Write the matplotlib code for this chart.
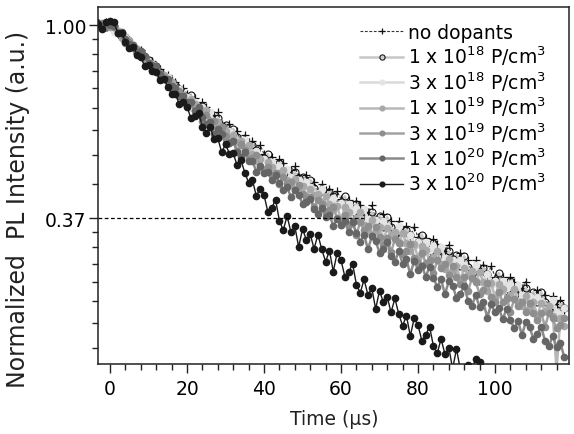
import matplotlib
matplotlib.use("Agg")
import matplotlib.pyplot as plt
import numpy as np
from matplotlib.ticker import FixedLocator, MultipleLocator, NullFormatter

# PL decay traces, sampled every 1 us (black trace stops at 96 us)
time_us = np.arange(-3, 119)
time_black_us = np.arange(-3, 97)

no_dopants = [
    1.010, 0.995, 1.015, 1.012,
    0.973, 0.972, 0.936, 0.943, 0.922, 0.891, 0.884, 0.880, 0.847, 0.826,
    0.828, 0.803, 0.797, 0.768, 0.774, 0.753, 0.746, 0.722, 0.723, 0.699,
    0.675, 0.685, 0.648, 0.671, 0.654, 0.624, 0.627, 0.636, 0.600, 0.584,
    0.600, 0.573, 0.577, 0.546, 0.566, 0.546, 0.549, 0.525, 0.537, 0.513,
    0.497, 0.506, 0.481, 0.500, 0.489, 0.468, 0.472, 0.481, 0.456, 0.446,
    0.459, 0.441, 0.444, 0.422, 0.439, 0.426, 0.429, 0.412, 0.423, 0.406,
    0.390, 0.404, 0.377, 0.403, 0.393, 0.372, 0.379, 0.393, 0.366, 0.357,
    0.376, 0.356, 0.363, 0.338, 0.362, 0.347, 0.354, 0.335, 0.352, 0.333,
    0.320, 0.332, 0.308, 0.330, 0.322, 0.305, 0.311, 0.321, 0.299, 0.292,
    0.307, 0.291, 0.296, 0.276, 0.296, 0.284, 0.289, 0.274, 0.287, 0.272,
    0.262, 0.271, 0.253, 0.271, 0.264, 0.250, 0.256, 0.265, 0.247, 0.242,
    0.254, 0.241, 0.247, 0.230, 0.246, 0.236, 0.241, 0.229,
]
p_1e18 = [
    1.010, 1.005, 0.990, 1.015,
    0.997, 0.960, 0.938, 0.939, 0.908, 0.899, 0.865, 0.869, 0.843, 0.834,
    0.807, 0.809, 0.783, 0.761, 0.759, 0.730, 0.733, 0.717, 0.691, 0.685,
    0.695, 0.657, 0.642, 0.658, 0.629, 0.630, 0.596, 0.617, 0.594, 0.596,
    0.570, 0.584, 0.560, 0.541, 0.549, 0.519, 0.538, 0.524, 0.501, 0.503,
    0.512, 0.486, 0.476, 0.490, 0.469, 0.473, 0.449, 0.467, 0.452, 0.455,
    0.437, 0.449, 0.431, 0.418, 0.425, 0.405, 0.421, 0.412, 0.395, 0.398,
    0.412, 0.384, 0.375, 0.395, 0.374, 0.381, 0.355, 0.379, 0.365, 0.372,
    0.352, 0.370, 0.351, 0.337, 0.349, 0.325, 0.347, 0.338, 0.320, 0.326,
    0.338, 0.315, 0.307, 0.323, 0.306, 0.312, 0.291, 0.310, 0.298, 0.304,
    0.288, 0.302, 0.286, 0.275, 0.285, 0.266, 0.284, 0.276, 0.262, 0.267,
    0.277, 0.258, 0.252, 0.266, 0.251, 0.257, 0.240, 0.256, 0.246, 0.251,
    0.238, 0.251, 0.238, 0.229, 0.238, 0.221, 0.236, 0.231,
]
p_3e18 = [
    0.990, 1.010, 0.995, 1.005,
    0.967, 0.975, 0.946, 0.938, 0.906, 0.907, 0.877, 0.850, 0.846, 0.812,
    0.817, 0.800, 0.773, 0.768, 0.763, 0.735, 0.717, 0.718, 0.693, 0.690,
    0.652, 0.673, 0.650, 0.653, 0.623, 0.637, 0.607, 0.585, 0.591, 0.558,
    0.578, 0.565, 0.540, 0.543, 0.552, 0.522, 0.509, 0.521, 0.498, 0.500,
    0.474, 0.493, 0.479, 0.482, 0.462, 0.475, 0.455, 0.442, 0.449, 0.426,
    0.443, 0.433, 0.416, 0.420, 0.427, 0.407, 0.398, 0.409, 0.393, 0.398,
    0.371, 0.396, 0.381, 0.388, 0.368, 0.386, 0.366, 0.352, 0.364, 0.339,
    0.363, 0.353, 0.335, 0.342, 0.354, 0.330, 0.322, 0.338, 0.320, 0.326,
    0.304, 0.325, 0.312, 0.318, 0.301, 0.317, 0.300, 0.287, 0.297, 0.277,
    0.297, 0.289, 0.274, 0.279, 0.289, 0.270, 0.263, 0.276, 0.261, 0.266,
    0.249, 0.266, 0.256, 0.262, 0.247, 0.260, 0.247, 0.238, 0.246, 0.229,
    0.245, 0.240, 0.227, 0.233, 0.241, 0.225, 0.219, 0.231,
]
p_1e19 = [
    0.998, 0.990, 1.005, 0.992,
    0.992, 0.969, 0.937, 0.928, 0.924, 0.888, 0.866, 0.866, 0.835, 0.825,
    0.794, 0.800, 0.778, 0.772, 0.745, 0.746, 0.720, 0.699, 0.695, 0.658,
    0.681, 0.663, 0.633, 0.636, 0.644, 0.608, 0.592, 0.606, 0.576, 0.578,
    0.547, 0.566, 0.546, 0.549, 0.525, 0.537, 0.513, 0.495, 0.500, 0.472,
    0.491, 0.480, 0.461, 0.465, 0.473, 0.448, 0.438, 0.451, 0.432, 0.434,
    0.412, 0.428, 0.415, 0.418, 0.401, 0.413, 0.396, 0.383, 0.391, 0.365,
    0.389, 0.380, 0.360, 0.368, 0.380, 0.355, 0.345, 0.364, 0.345, 0.351,
    0.328, 0.349, 0.337, 0.343, 0.325, 0.341, 0.323, 0.310, 0.322, 0.299,
    0.319, 0.312, 0.295, 0.301, 0.311, 0.291, 0.283, 0.298, 0.282, 0.287,
    0.267, 0.285, 0.274, 0.280, 0.266, 0.279, 0.264, 0.253, 0.263, 0.244,
    0.262, 0.255, 0.242, 0.247, 0.255, 0.239, 0.234, 0.246, 0.232, 0.238,
    0.222, 0.237, 0.228, 0.234, 0.222, 0.168, 0.220, 0.211,
]
p_3e19 = [
    0.996, 1.012, 0.995, 1.002,
    0.991, 0.958, 0.949, 0.913, 0.917, 0.889, 0.881, 0.849, 0.849, 0.817,
    0.794, 0.792, 0.760, 0.766, 0.747, 0.722, 0.714, 0.711, 0.682, 0.658,
    0.673, 0.643, 0.644, 0.609, 0.629, 0.606, 0.607, 0.579, 0.591, 0.563,
    0.544, 0.550, 0.521, 0.540, 0.525, 0.501, 0.503, 0.509, 0.480, 0.467,
    0.480, 0.460, 0.464, 0.439, 0.456, 0.441, 0.444, 0.425, 0.437, 0.417,
    0.404, 0.411, 0.390, 0.405, 0.396, 0.380, 0.383, 0.389, 0.368, 0.356,
    0.375, 0.355, 0.362, 0.338, 0.361, 0.347, 0.353, 0.335, 0.352, 0.333,
    0.320, 0.332, 0.309, 0.330, 0.323, 0.305, 0.311, 0.322, 0.300, 0.292,
    0.308, 0.292, 0.296, 0.277, 0.296, 0.284, 0.290, 0.274, 0.287, 0.272,
    0.262, 0.271, 0.252, 0.270, 0.264, 0.249, 0.254, 0.263, 0.245, 0.239,
    0.251, 0.238, 0.244, 0.227, 0.242, 0.233, 0.239, 0.227, 0.237, 0.225,
    0.217, 0.225, 0.210, 0.225, 0.219, 0.208, 0.212, 0.219,
]
p_1e20 = [
    1.005, 0.985, 1.010, 1.000,
    0.993, 0.961, 0.963, 0.932, 0.906, 0.902, 0.868, 0.873, 0.851, 0.822,
    0.814, 0.810, 0.778, 0.758, 0.758, 0.730, 0.722, 0.691, 0.693, 0.670,
    0.671, 0.640, 0.653, 0.622, 0.598, 0.604, 0.568, 0.585, 0.568, 0.539,
    0.542, 0.549, 0.519, 0.506, 0.518, 0.494, 0.495, 0.468, 0.483, 0.465,
    0.468, 0.448, 0.460, 0.441, 0.426, 0.433, 0.410, 0.425, 0.415, 0.397,
    0.400, 0.407, 0.386, 0.377, 0.388, 0.371, 0.374, 0.354, 0.367, 0.355,
    0.362, 0.342, 0.361, 0.340, 0.326, 0.338, 0.313, 0.335, 0.327, 0.308,
    0.314, 0.326, 0.302, 0.294, 0.310, 0.291, 0.298, 0.275, 0.295, 0.282,
    0.288, 0.272, 0.286, 0.270, 0.258, 0.268, 0.248, 0.266, 0.259, 0.244,
    0.249, 0.259, 0.240, 0.234, 0.247, 0.232, 0.238, 0.220, 0.236, 0.226,
    0.231, 0.218, 0.230, 0.217, 0.208, 0.216, 0.201, 0.215, 0.209, 0.197,
    0.202, 0.210, 0.195, 0.190, 0.200, 0.189, 0.193, 0.179,
]
p_3e20 = [
    1.007, 0.979, 1.014, 1.020,
    1.015, 0.961, 0.961, 0.916, 0.889, 0.894, 0.857, 0.849, 0.807, 0.815,
    0.788, 0.784, 0.752, 0.757, 0.726, 0.700, 0.699, 0.664, 0.672, 0.655,
    0.618, 0.623, 0.635, 0.591, 0.572, 0.589, 0.555, 0.557, 0.517, 0.540,
    0.514, 0.515, 0.484, 0.497, 0.466, 0.442, 0.448, 0.413, 0.429, 0.415,
    0.380, 0.388, 0.405, 0.363, 0.346, 0.372, 0.342, 0.353, 0.317, 0.348,
    0.329, 0.339, 0.314, 0.338, 0.313, 0.294, 0.311, 0.279, 0.308, 0.296,
    0.272, 0.278, 0.291, 0.261, 0.250, 0.268, 0.247, 0.256, 0.230, 0.253,
    0.238, 0.245, 0.226, 0.243, 0.224, 0.211, 0.222, 0.200, 0.219, 0.212,
    0.195, 0.201, 0.210, 0.190, 0.183, 0.197, 0.182, 0.188, 0.169, 0.187,
    0.168, 0.163, 0.172, 0.168, 0.178, 0.175,
]

labels = [
    "no dopants",
    r"1 x 10$^{18}$ P/cm$^{3}$",
    r"3 x 10$^{18}$ P/cm$^{3}$",
    r"1 x 10$^{19}$ P/cm$^{3}$",
    r"3 x 10$^{19}$ P/cm$^{3}$",
    r"1 x 10$^{20}$ P/cm$^{3}$",
    r"3 x 10$^{20}$ P/cm$^{3}$",
]

# 1/e level marker
e_level = np.exp(-1)
e_line_end_us = 66

plt.rcParams["font.family"] = "DejaVu Sans"
plt.rcParams["mathtext.fontset"] = "dejavusans"

fig = plt.figure(figsize=(5.74, 4.35), dpi=100)
ax = fig.add_axes([0.1713, 0.1609, 0.8205, 0.82])

ax.plot(time_us, no_dopants, color="#333333", lw=0.8, ls=(0, (2.5, 1.5)),
        marker="+", ms=6, mew=0.9, mec="#111111", label=labels[0])
ax.plot(time_us, p_1e18, color="#c6c6c6", lw=1.8, marker="o", ms=5,
        mfc="none", mec="#111111", mew=0.8, label=labels[1])
ax.plot(time_us, p_3e18, color="#dadada", lw=1.8, marker="o", ms=4.5,
        mfc="#e4e4e4", mec="#e4e4e4", label=labels[2])
ax.plot(time_us, p_1e19, color="#b8b8b8", lw=1.8, marker="o", ms=4.5,
        mfc="#a8a8a8", mec="#a8a8a8", label=labels[3])
ax.plot(time_us, p_3e19, color="#a2a2a2", lw=1.8, marker="o", ms=4.5,
        mfc="#8e8e8e", mec="#8e8e8e", label=labels[4])
ax.plot(time_us, p_1e20, color="#8a8a8a", lw=1.8, marker="o", ms=4.5,
        mfc="#666666", mec="#666666", label=labels[5])
ax.plot(time_black_us, p_3e20, color="#1a1a1a", lw=1.0, marker="o", ms=4.5,
        mfc="#1a1a1a", mec="#1a1a1a", label=labels[6])

ax.plot([-3.04, e_line_end_us], [e_level, e_level], color="black", lw=0.9,
        ls=(0, (3, 2)))

ax.set_yscale("log")
ax.set_xlim(-3.04, 119.3)
ax.set_ylim(0.173, 1.096)

ax.yaxis.set_major_locator(FixedLocator([e_level, 1.0]))
ax.set_yticklabels(["0.37", "1.00"])
minor = [1 - 0.07 * k for k in range(1, 9)] + [e_level * (1 - 0.07 * k) for k in range(1, 8)]
ax.yaxis.set_minor_locator(FixedLocator(minor))
ax.yaxis.set_minor_formatter(NullFormatter())

ax.set_xticks([0, 20, 40, 60, 80, 100])
ax.xaxis.set_minor_locator(MultipleLocator(4))

ax.tick_params(axis="both", which="major", direction="out", length=6.5, width=1.0,
               labelsize=13.5, color="#222222")
ax.tick_params(axis="both", which="minor", direction="out", length=4, width=1.0,
               color="#222222")
ax.tick_params(axis="x", which="major", pad=4)
ax.tick_params(axis="y", which="major", pad=2)
ax.tick_params(top=False, right=False, which="both")
for sp in ax.spines.values():
    sp.set_linewidth(1.1)
    sp.set_color("#222222")

ax.set_xlabel("Time (\u00b5s)", fontsize=13.5, labelpad=8, color="#222222")
ax.set_ylabel("Normalized  PL Intensity (a.u.)", fontsize=17, color="#222222")
ax.yaxis.set_label_coords(-0.145, 0.437)

ax.legend(loc="upper left", bbox_to_anchor=(0.556, 0.956), frameon=False,
          fontsize=13.5, handlelength=2.3, handletextpad=0.25,
          labelspacing=0.1, borderpad=0, borderaxespad=0, markerscale=0.75)

fig.savefig("out.png", dpi=100)
